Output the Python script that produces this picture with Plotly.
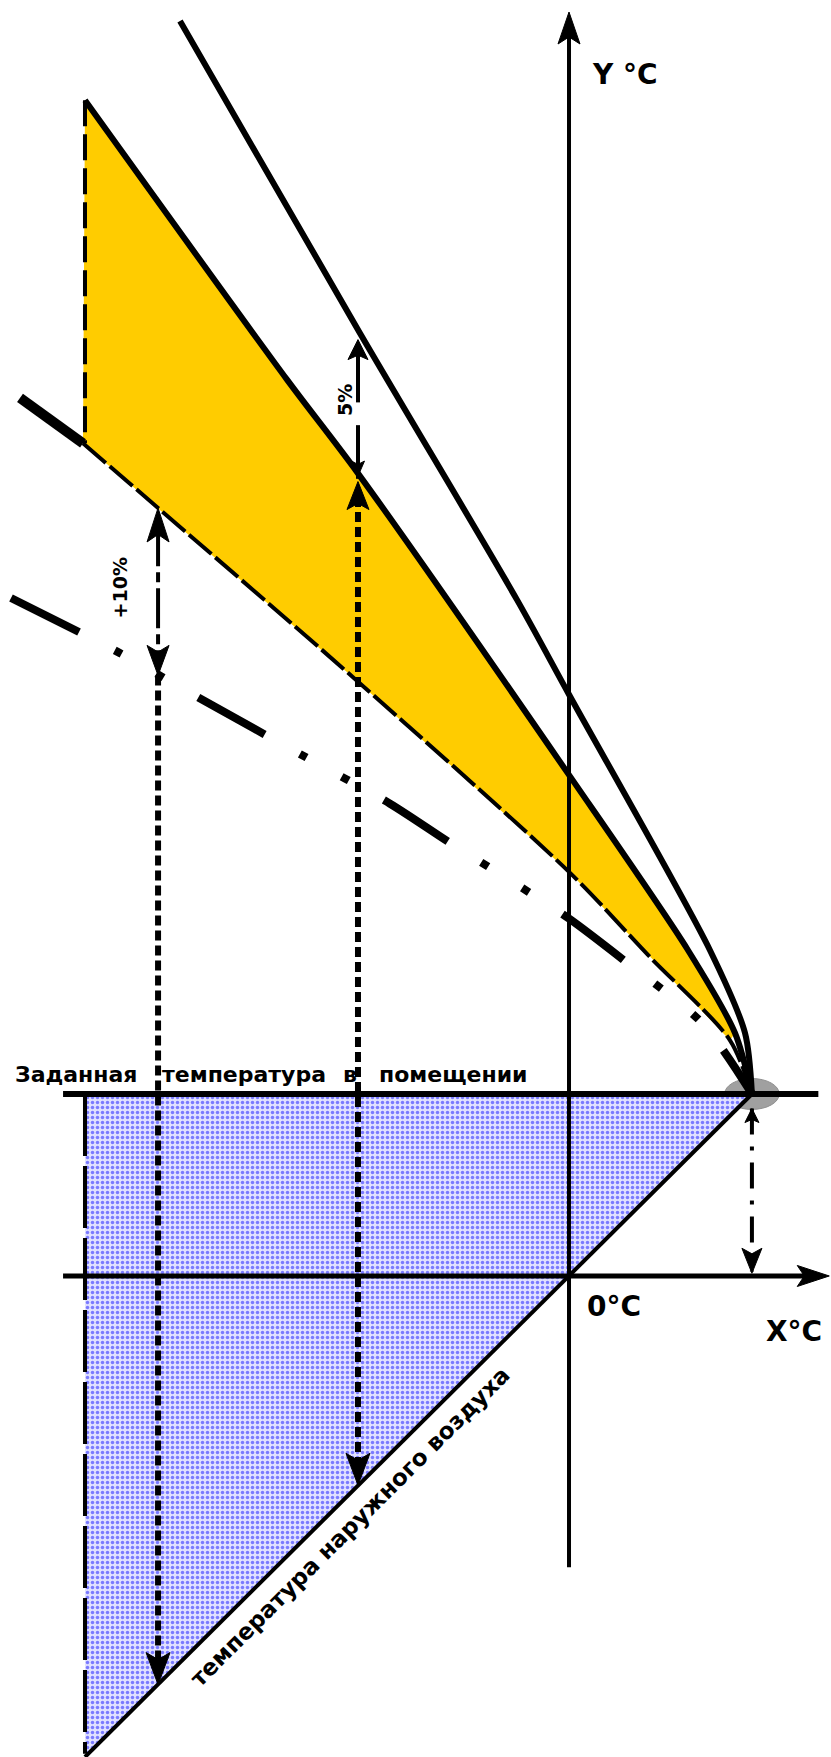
import plotly.graph_objects as go

# Diagram units: degrees C on both axes, 0/0 is the axis crossing.
PX = 9.1  # screen pixels per degree, same on x and y

x_range = [-62.53, 28.79]
y_range = [-52.86, 140.22]

# room set point and the horizontal line through it
setpoint = 20.0
setpoint_x = [-55.6, 27.4]

# heating curves (flow temperature vs outdoor temperature)
curve_top_x = [-42.75, -22.97, -5.71, 0.0, 15.49, 19.34, 20.1]
curve_top_y = [137.9, 103.6, 74.3, 63.9, 35.8, 26.7, 20.0]

curve_upper_x = [-53.19, -30.99, -23.19, 0.11, 13.08, 18.24, 20.1]
curve_upper_y = [129.2, 98.5, 88.2, 54.9, 35.8, 26.7, 20.0]

curve_lower_x = [-53.41, -45.16, -23.74, 0.11, 8.90, 17.69, 20.1]
curve_lower_y = [91.5, 84.4, 65.8, 44.3, 35.05, 25.9, 20.0]
stub_x = [-60.33, -53.41]
stub_y = [96.5, 91.5]

curve_base_x = [-61.32, -49.45, -40.44, -28.90, -19.67, -13.08, -4.29, 0.11, 6.15, 14.62, 20.1]
curve_base_y = [74.5, 68.5, 63.4, 57.0, 51.9, 47.6, 42.1, 39.2, 34.6, 27.8, 20.0]

# outdoor air temperature line (y = x)
outdoor_x = [-53.19, 20.1]
outdoor_y = [-52.86, 20.0]

# left limit (design outdoor temperature)
limit_x = -53.19
yellow_top, yellow_bottom = 129.2, 91.5
limit_bottom = -52.5

# +10% and 5% markers
ten_x, ten_top, ten_mid, ten_bottom = -45.16, 84.4, 66.0, -44.9
five_x, five_low, five_top, five_bottom = -23.19, 87.6, 102.9, -23.0
five_gap = [93.5, 96.0]

# point where all curves meet and the arrow down to the x axis
meet_x, meet_y = 20.1, 20.0

axis_x = [-55.6, 28.6]
axis_y = [-32.0, 138.9]

# set point caption, word by word (left edge of each word)
caption_words = ['Заданная', 'температура', 'в', 'помещении']
caption_x = [-61.1, -44.95, -25.1, -21.1]
caption_y = 22.1


def head(x, y, direction, length, width):
    # notched arrowhead, tip at (x, y), sizes in px
    L = length / PX
    W = width / PX / 2
    n = L * 0.78
    if direction == 'up':
        pts = [(x, y), (x - W, y - L), (x, y - n), (x + W, y - L)]
    elif direction == 'down':
        pts = [(x, y), (x - W, y + L), (x, y + n), (x + W, y + L)]
    else:  # right
        pts = [(x, y), (x - L, y + W), (x - n, y), (x - L, y - W)]
    pts.append(pts[0])
    return [p[0] for p in pts] + [None], [p[1] for p in pts] + [None]


def line(fig, x, y, width, dash='solid', shape='linear'):
    fig.add_trace(go.Scatter(x=x, y=y, mode='lines',
                             line=dict(color='black', width=width, dash=dash, shape=shape, smoothing=0.8),
                             hoverinfo='skip', showlegend=False))


fig = go.Figure()

# blue area under the set point
fig.add_trace(go.Scatter(
    x=[limit_x, meet_x, outdoor_x[0], limit_x], y=[setpoint, setpoint, outdoor_y[0], setpoint],
    mode='lines', fill='toself', line=dict(width=0),
    fillcolor='#E2E2FF',
    fillpattern=dict(shape='.', fgcolor='#1414FF', bgcolor='#E0E0FF', size=5, solidity=0.38),
    hoverinfo='skip', showlegend=False))

# yellow band between the upper and lower curve
yx = curve_upper_x[:-1] + curve_lower_x[-2::-1] + [curve_upper_x[0]]
yy = curve_upper_y[:-1] + curve_lower_y[-2::-1] + [curve_upper_y[0]]
fig.add_trace(go.Scatter(x=yx, y=yy, mode='lines', fill='toself', fillcolor='#FFCC00',
                         line=dict(width=0), hoverinfo='skip', showlegend=False))

# curves
line(fig, curve_top_x, curve_top_y, 6, shape='spline')
line(fig, curve_upper_x, curve_upper_y, 6, shape='spline')
line(fig, curve_lower_x, curve_lower_y, 4, dash='30px,5px', shape='spline')
line(fig, stub_x, stub_y, 10)
line(fig, curve_base_x, curve_base_y, 8, dash='76px,40px,8px,40px,8px,40px', shape='spline')

# left limit lines
line(fig, [limit_x, limit_x], [yellow_top, yellow_bottom], 4, dash='26px,8px')
line(fig, [limit_x, limit_x], [setpoint, limit_bottom], 4, dash='62px,10px')

# set point and outdoor air line
line(fig, setpoint_x, [setpoint, setpoint], 6)
line(fig, outdoor_x, outdoor_y, 4)

# axes
line(fig, axis_x[:1] + [axis_x[1] - 2], [0, 0], 5)
line(fig, [0, 0], axis_y[:1] + [axis_y[1] - 2], 4)

# +10% marker and drop line
line(fig, [ten_x, ten_x], [ten_top - 2, ten_mid + 2], 4, dash='40px,6px,10px,6px')
line(fig, [ten_x, ten_x], [ten_mid, ten_bottom + 2], 6, dash='10px,5px')

# 5% marker and drop line
line(fig, [five_x, five_x], [five_low, five_gap[0]], 4)
line(fig, [five_x, five_x], [five_gap[1], five_top - 1.5], 4)
line(fig, [five_x, five_x], [five_low - 2, five_bottom + 2], 6, dash='10px,5px')

# dash-dot arrow from the meeting point to the x axis
line(fig, [meet_x, meet_x], [meet_y - 1.6, 0.5], 4, dash='26px,12px,4px,12px')

heads = [
    (0, axis_y[1], 'up', 32, 22),
    (axis_x[1], 0, 'right', 32, 21),
    (ten_x, ten_top, 'up', 34, 22),
    (ten_x, ten_mid, 'down', 30, 22),
    (ten_x, ten_bottom, 'down', 32, 24),
    (five_x, five_top, 'up', 20, 20),
    (five_x, five_low + 0.3, 'down', 15, 13),
    (five_x, five_low - 0.3, 'up', 28, 22),
    (five_x, five_bottom, 'down', 32, 24),
    (meet_x, meet_y - 1.6, 'up', 14, 14),
    (meet_x, 0.3, 'down', 25, 20),
]
hx, hy = [], []
for h in heads:
    a, b = head(*h)
    hx += a
    hy += b
fig.add_trace(go.Scatter(x=hx, y=hy, mode='lines', fill='toself', fillcolor='black',
                         line=dict(color='black', width=1), hoverinfo='skip', showlegend=False))

# grey blob where the curves meet
fig.add_shape(type='circle', xref='x', yref='y', layer='below',
              x0=meet_x - 3.0, x1=meet_x + 3.0, y0=meet_y - 1.7, y1=meet_y + 1.7,
              fillcolor='#A0A0A0', line=dict(color='#909090', width=1))

FAMILY = 'DejaVu Sans, Arial'
font_big = dict(family=FAMILY, size=28, color='black', weight=700)
font_mid = dict(family=FAMILY, size=22, color='black', weight=700)
font_small = dict(family=FAMILY, size=19, color='black', weight=700)

texts = [
    ('Y °C', 6.15, 132.0, 0, font_big),
    ('0°C', 4.95, -3.4, 0, font_big),
    ('X°C', 24.7, -6.15, 0, font_big),
    ('+10%', -49.3, 75.6, -90, font_small),
    ('5%', -24.7, 96.3, -90, font_small),
    ('температура наружного воздуха', -24.1, -27.6, -45, dict(font_mid, size=23)),
]
for t, x, y, ang, f in texts:
    fig.add_annotation(text=t, x=x, y=y, xref='x', yref='y', showarrow=False,
                       textangle=ang, font=f, xanchor='center', yanchor='middle')

for word, x in zip(caption_words, caption_x):
    fig.add_annotation(text=word, x=x, y=caption_y, xref='x', yref='y', showarrow=False,
                       font=font_mid, xanchor='left', yanchor='middle')

fig.update_layout(
    width=831, height=1757,
    margin=dict(l=0, r=0, t=0, b=0),
    paper_bgcolor='white', plot_bgcolor='white',
    xaxis=dict(range=x_range, visible=False, fixedrange=True),
    yaxis=dict(range=y_range, visible=False, fixedrange=True),
)

fig.write_html("out.html", config={'displayModeBar': False},
               post_script="document.body.style.margin='0';document.body.style.overflow='hidden';")
